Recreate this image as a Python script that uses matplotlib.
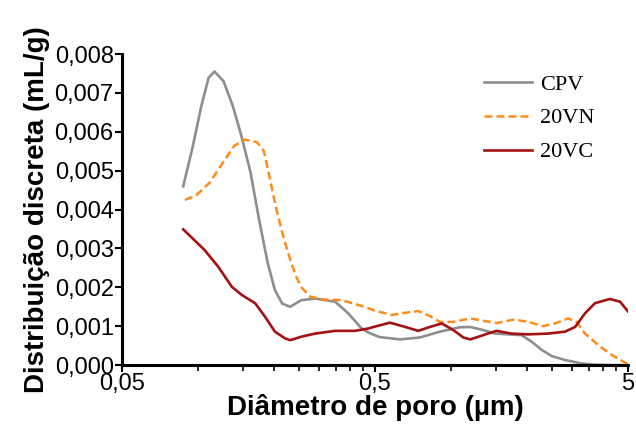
import matplotlib
matplotlib.use("Agg")
import matplotlib.pyplot as plt
from matplotlib.ticker import FixedLocator, NullFormatter

# pore diameter (um) and discrete distribution (mL/g)
cpv_x = [0.0873, 0.095, 0.103, 0.110, 0.116, 0.126, 0.137, 0.148, 0.161, 0.174, 0.188,
         0.201, 0.215, 0.231, 0.256, 0.290, 0.348, 0.392, 0.443, 0.47, 0.52, 0.628, 0.753,
         0.903, 1.08, 1.19, 1.34, 1.49, 1.90, 2.08, 2.28, 2.50, 2.82, 3.28, 3.71, 4.3, 5.0]
cpv_y = [0.00460, 0.00559, 0.00667, 0.00739, 0.00755, 0.00730, 0.00667, 0.00591, 0.00496,
         0.00375, 0.00265, 0.00193, 0.00158, 0.00150, 0.00167, 0.00171, 0.00163, 0.00133,
         0.00094, 0.00084, 0.00072, 0.00066, 0.00071, 0.00086, 0.00097, 0.00098, 0.00090,
         0.00081, 0.00077, 0.00060, 0.00039, 0.00023, 0.00013, 0.00004, 0.00001, 0.0, 0.0]

vn_x = [0.0887, 0.098, 0.111, 0.126, 0.139, 0.153, 0.171, 0.182, 0.191, 0.204, 0.214,
        0.224, 0.234, 0.245, 0.256, 0.277, 0.308, 0.369, 0.443, 0.50, 0.582, 0.667, 0.741,
        0.824, 0.903, 1.02, 1.19, 1.34, 1.51, 1.77, 2.02, 2.31, 2.57, 2.90, 3.13, 3.38,
        3.82, 4.31, 5.0]
vn_y = [0.00425, 0.00436, 0.00469, 0.00523, 0.00564, 0.00580, 0.00573, 0.00550, 0.00487,
        0.00400, 0.00345, 0.00300, 0.00260, 0.00225, 0.00200, 0.00176, 0.00169, 0.00167,
        0.00152, 0.00140, 0.00129, 0.00135, 0.00139, 0.00126, 0.00111, 0.00111, 0.00120,
        0.00114, 0.00108, 0.00117, 0.00111, 0.00100, 0.00107, 0.00120, 0.00111, 0.00081,
        0.00051, 0.00026, 0.00002]

vc_x = [0.0873, 0.106, 0.120, 0.136, 0.149, 0.168, 0.184, 0.201, 0.220, 0.231, 0.256,
        0.290, 0.348, 0.417, 0.470, 0.500, 0.573, 0.667, 0.741, 0.824, 0.918, 1.02, 1.117,
        1.19, 1.34, 1.51, 1.73, 2.02, 2.42, 2.82, 3.09, 3.38, 3.70, 4.24, 4.65, 5.0]
vc_y = [0.00349, 0.00296, 0.00253, 0.00201, 0.00180, 0.00159, 0.00124, 0.00086, 0.00069,
        0.00064, 0.00073, 0.00081, 0.00088, 0.00088, 0.00094, 0.00099, 0.00109, 0.00097,
        0.00088, 0.00098, 0.00107, 0.00090, 0.00071, 0.00066, 0.00077, 0.00088, 0.00081,
        0.00079, 0.00081, 0.00086, 0.00098, 0.00133, 0.00159, 0.00170, 0.00163, 0.00138]

x_ticks = [0.05, 0.5, 5]
x_tick_labels = ["0,05", "0,5", "5"]
x_minor = [0.05 * k for k in range(2, 10)] + [0.5 * k for k in range(2, 10)]
y_ticks = [0.000, 0.001, 0.002, 0.003, 0.004, 0.005, 0.006, 0.007, 0.008]
y_tick_labels = ["0,000", "0,001", "0,002", "0,003", "0,004", "0,005", "0,006", "0,007", "0,008"]

plt.rcParams["font.family"] = ["Liberation Sans", "DejaVu Sans"]

fig = plt.figure(figsize=(6.36, 4.24), dpi=100)
ax = fig.add_axes([0.1918, 0.139, 0.7956, 0.7336])

ax.plot(cpv_x, cpv_y, color="#8e8e8e", lw=1.9, label="CPV")
ax.plot(vn_x, vn_y, color="#ff8c1a", lw=1.8, ls=(0, (3.2, 1.6)), label="20VN")
ax.plot(vc_x, vc_y, color="#a31212", lw=1.9, label="20VC")

ax.set_xscale("log")
ax.set_xlim(0.05, 5)
ax.set_ylim(0, 0.008)
ax.xaxis.set_major_locator(FixedLocator(x_ticks))
ax.set_xticklabels(x_tick_labels)
ax.xaxis.set_minor_locator(FixedLocator(x_minor))
ax.xaxis.set_minor_formatter(NullFormatter())
ax.set_yticks(y_ticks)
ax.set_yticklabels(y_tick_labels)

for side in ["top", "right"]:
    ax.spines[side].set_visible(False)
for side in ["left", "bottom"]:
    ax.spines[side].set_linewidth(2.2)

ax.tick_params(axis="both", which="major", labelsize=17, width=1.5, length=5, direction="out", pad=1)
ax.tick_params(axis="x", which="minor", width=1.2, length=4, direction="out")

ax.set_xlabel("Diâmetro de poro (µm)", fontsize=20, fontweight="bold", labelpad=-1)
ax.set_ylabel("Distribuição discreta (mL/g)", fontsize=20, fontweight="bold", labelpad=3)

ax.legend(loc="upper left", bbox_to_anchor=(0.675, 1.0), frameon=False,
          prop={"family": "Liberation Serif", "size": 16}, handlelength=2.2,
          handletextpad=0.35, labelspacing=0.6)

fig.savefig("out.png", dpi=100)
plt.close(fig)
